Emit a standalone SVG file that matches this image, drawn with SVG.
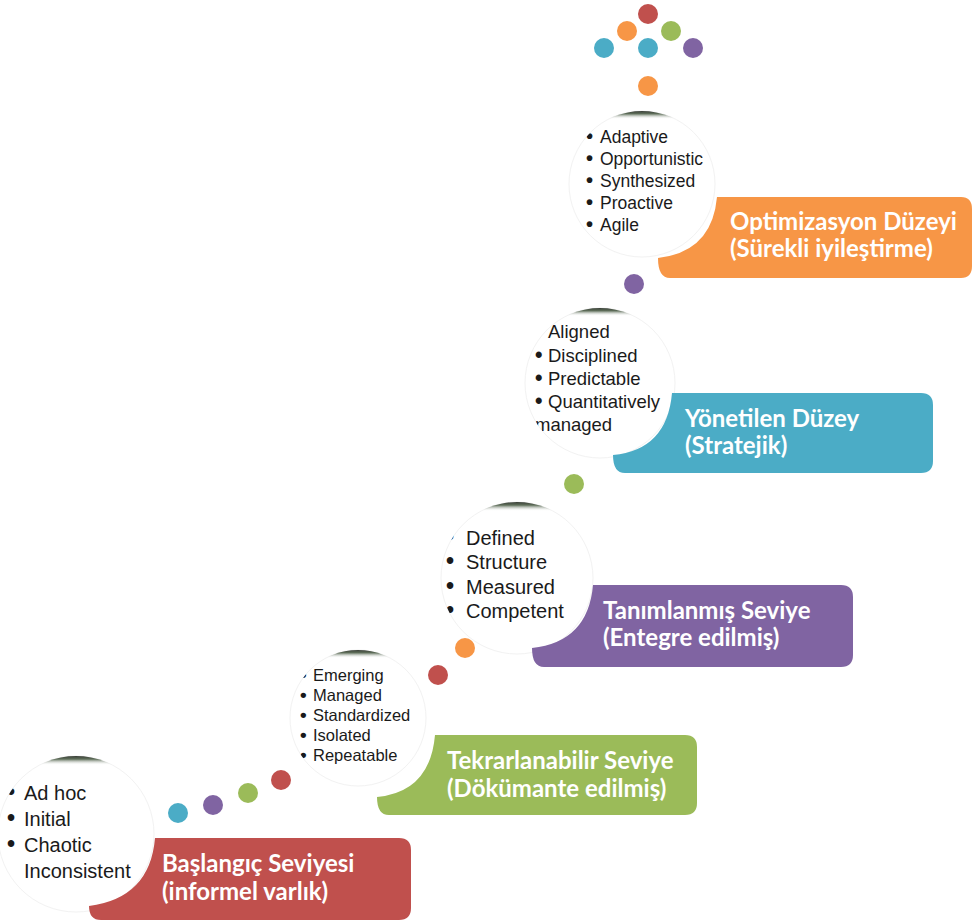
<svg xmlns="http://www.w3.org/2000/svg" width="973" height="921" viewBox="0 0 973 921">
<style>
.lbl{font-family:Lato,"Open Sans","Liberation Sans",sans-serif;font-weight:bold;font-size:24px;fill:#fff}
.lst{font-family:"Liberation Sans",Arial,sans-serif;fill:#1a1a1a}
.b{font-weight:bold;font-size:1.15em}
.disc{fill:#fff;stroke:#f2f2f2;stroke-width:1}
.cap{fill:url(#capg)}
.red{fill:#c0504d}.grn{fill:#9bbb59}.pur{fill:#8064a2}.tea{fill:#4bacc6}.org{fill:#f79646}
</style>
<defs>
<linearGradient id="capg" x1="0" y1="0" x2="0" y2="1">
<stop offset="0" stop-color="#3a3f38"/>
<stop offset="0.35" stop-color="#5f6f5a"/>
<stop offset="1" stop-color="#ffffff" stop-opacity="0"/>
</linearGradient>
<clipPath id="c1"><circle cx="76" cy="834" r="78"/></clipPath>
<clipPath id="c2"><circle cx="358" cy="718" r="68"/></clipPath>
<clipPath id="c3"><circle cx="517" cy="578" r="76"/></clipPath>
<clipPath id="c4"><circle cx="600" cy="383" r="75"/></clipPath>
<clipPath id="c5"><circle cx="642" cy="184" r="73"/></clipPath>
</defs>

<g id="dots">
<circle class="tea" cx="178" cy="813" r="10"/>
<circle class="pur" cx="213" cy="805" r="10"/>
<circle class="grn" cx="248" cy="793" r="10"/>
<circle class="red" cx="281" cy="780" r="10"/>
<circle class="red" cx="438" cy="675" r="10"/>
<circle class="org" cx="465" cy="648" r="10"/>
<circle class="grn" cx="574" cy="484" r="10"/>
<circle class="pur" cx="634" cy="284" r="10"/>
<circle class="org" cx="648" cy="86" r="10"/>
<circle class="red" cx="648" cy="14" r="10"/>
<circle class="org" cx="627" cy="31" r="10"/>
<circle class="grn" cx="671" cy="31" r="10"/>
<circle class="tea" cx="604" cy="48" r="10"/>
<circle class="tea" cx="648" cy="48" r="10"/>
<circle class="pur" cx="693" cy="48" r="10"/>
</g>

<g id="level1">
<circle class="disc" cx="76" cy="834" r="78"/>
<g clip-path="url(#c1)">
<rect class="cap" x="0" y="756" width="160" height="9"/>
<g class="lst" font-size="20">
<text class="b" x="7" y="800">•</text><text x="24" y="800">Ad hoc</text>
<text class="b" x="7" y="826">•</text><text x="24" y="826">Initial</text>
<text class="b" x="7" y="852">•</text><text x="24" y="852">Chaotic</text>
<text x="24" y="878">Inconsistent</text>
</g>
</g>
<path class="red" d="M155,838 H399 Q411,838 411,850 V908 Q411,920 399,920 H101 Q89,920 89,906 Q150,898 155,838 Z"/>
<text class="lbl" x="162" y="872">Başlangıç Seviyesi</text>
<text class="lbl" x="162" y="900">(informel varlık)</text>
</g>

<g id="level2">
<circle class="disc" cx="358" cy="718" r="68"/>
<g clip-path="url(#c2)">
<rect class="cap" x="280" y="650" width="160" height="8"/>
<g class="lst" font-size="16.5">
<text class="b" x="300" y="681">•</text><text x="313" y="681">Emerging</text>
<text class="b" x="300" y="701">•</text><text x="313" y="701">Managed</text>
<text class="b" x="300" y="721">•</text><text x="313" y="721">Standardized</text>
<text class="b" x="300" y="741">•</text><text x="313" y="741">Isolated</text>
<text class="b" x="300" y="761">•</text><text x="313" y="761">Repeatable</text>
</g>
</g>
<path class="grn" d="M435,735 H685 Q697,735 697,747 V803 Q697,815 685,815 H389 Q377,815 377,797 Q430,792 435,735 Z"/>
<text class="lbl" x="447" y="769">Tekrarlanabilir Seviye</text>
<text class="lbl" x="447" y="797">(Dökümante edilmiş)</text>
</g>

<g id="level3">
<circle class="disc" cx="517" cy="578" r="76"/>
<g clip-path="url(#c3)">
<rect class="cap" x="430" y="502" width="180" height="9"/>
<g class="lst" font-size="20">
<text class="b" x="446" y="545">•</text><text x="466" y="545">Defined</text>
<text class="b" x="446" y="569">•</text><text x="466" y="569">Structure</text>
<text class="b" x="446" y="594">•</text><text x="466" y="594">Measured</text>
<text class="b" x="446" y="618">•</text><text x="466" y="618">Competent</text>
</g>
</g>
<path class="pur" d="M593,585 H841 Q853,585 853,597 V655 Q853,667 841,667 H544 Q532,667 532,648 Q588,642 593,585 Z"/>
<text class="lbl" x="603" y="619">Tanımlanmış Seviye</text>
<text class="lbl" x="603" y="646">(Entegre edilmiş)</text>
</g>

<g id="level4">
<circle class="disc" cx="600" cy="383" r="75"/>
<g clip-path="url(#c4)">
<rect class="cap" x="520" y="308" width="160" height="8"/>
<g class="lst" font-size="18.5">
<text class="b" x="535" y="338">•</text><text x="548" y="338">Aligned</text>
<text class="b" x="535" y="362">•</text><text x="548" y="362">Disciplined</text>
<text class="b" x="535" y="385">•</text><text x="548" y="385">Predictable</text>
<text class="b" x="535" y="408">•</text><text x="548" y="408">Quantitatively</text>
<text x="535" y="431">managed</text>
</g>
</g>
<path class="tea" d="M672,393 H921 Q933,393 933,405 V461 Q933,473 921,473 H625 Q613,473 613,455 Q667,450 672,393 Z"/>
<text class="lbl" x="685" y="427">Yönetilen Düzey</text>
<text class="lbl" x="685" y="454">(Stratejik)</text>
</g>

<g id="level5">
<circle class="disc" cx="642" cy="184" r="73"/>
<g clip-path="url(#c5)">
<rect class="cap" x="560" y="111" width="170" height="8"/>
<g class="lst" font-size="17.5">
<text class="b" x="586" y="143">•</text><text x="600" y="143">Adaptive</text>
<text class="b" x="586" y="165">•</text><text x="600" y="165">Opportunistic</text>
<text class="b" x="586" y="187">•</text><text x="600" y="187">Synthesized</text>
<text class="b" x="586" y="209">•</text><text x="600" y="209">Proactive</text>
<text class="b" x="586" y="231">•</text><text x="600" y="231">Agile</text>
</g>
</g>
<path class="org" d="M717,197 H961 Q972,197 972,209 V266 Q972,278 961,278 H670 Q658,278 658,258 Q712,252 717,197 Z"/>
<text class="lbl" x="730" y="230">Optimizasyon Düzeyi</text>
<text class="lbl" x="730" y="257">(Sürekli iyileştirme)</text>
</g>
</svg>
